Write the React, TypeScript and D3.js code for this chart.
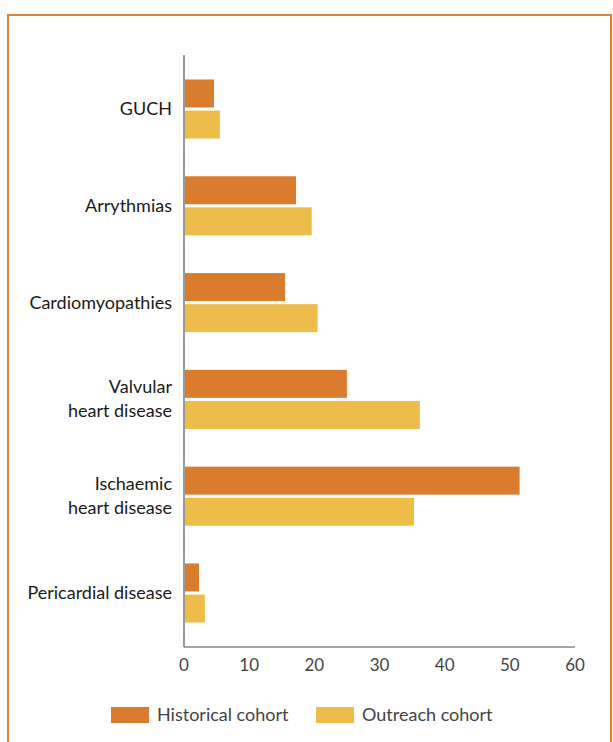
import React, { useEffect, useRef } from 'react';
import * as d3 from 'd3';

const categories = ['GUCH', 'Arrythmias', 'Cardiomyopathies', 'Valvular heart disease', 'Ischaemic heart disease', 'Pericardial disease'];
const categoryLines = [['GUCH'], ['Arrythmias'], ['Cardiomyopathies'], ['Valvular', 'heart disease'], ['Ischaemic', 'heart disease'], ['Pericardial disease']];
const seriesNames = ['Historical cohort', 'Outreach cohort'];
const historical = [4.6, 17.2, 15.5, 25.0, 51.5, 2.3];
const outreach = [5.5, 19.6, 20.5, 36.2, 35.3, 3.2];
const xTicks = [0, 10, 20, 30, 40, 50, 60];
const colors = ['#D97C2E', '#EDBC4A'];

const App = () => {
  const svgRef = useRef(null);

  useEffect(() => {
    const svg = d3.select(svgRef.current);
    svg.selectAll('*').remove();
    const font = 'Lato, "Open Sans", sans-serif';

    // frame
    svg.append('rect')
      .attr('x', 8).attr('y', 15).attr('width', 603).attr('height', 760)
      .attr('fill', 'none').attr('stroke', '#D9823A').attr('stroke-width', 2);

    const x = d3.scaleLinear().domain([0, 60]).range([184, 575]);
    const y = d3.scaleBand().domain(categories).range([55, 647]).paddingInner(0.39).paddingOuter(0.253);
    const sub = d3.scaleBand().domain(seriesNames).range([0, y.bandwidth()]).paddingInner(0.1);

    const data = categories.map((c, i) => ({ c, vals: [historical[i], outreach[i]] }));

    const g = svg.append('g');
    data.forEach(d => {
      d.vals.forEach((v, j) => {
        g.append('rect')
          .attr('x', x(0) + 1)
          .attr('y', y(d.c) + sub(seriesNames[j]))
          .attr('width', x(v) - x(0) - 1)
          .attr('height', sub.bandwidth())
          .attr('fill', colors[j]);
      });
    });

    // axes
    svg.append('line').attr('x1', x(0)).attr('x2', x(0)).attr('y1', 55).attr('y2', 647)
      .attr('stroke', '#777').attr('stroke-width', 1.5);
    svg.append('line').attr('x1', x(0)).attr('x2', x(60)).attr('y1', 647).attr('y2', 647)
      .attr('stroke', '#888').attr('stroke-width', 1.5);

    svg.selectAll('.xtick').data(xTicks).enter().append('text')
      .attr('x', d => x(d)).attr('y', 671)
      .attr('text-anchor', 'middle')
      .attr('font-family', font).attr('font-size', 17).attr('fill', '#444')
      .text(d => d);

    // category labels
    categories.forEach((c, i) => {
      const lines = categoryLines[i];
      const cy = y(c) + y.bandwidth() / 2;
      const lh = 24;
      const start = cy - (lines.length - 1) * lh / 2 + 6;
      lines.forEach((l, k) => {
        svg.append('text')
          .attr('x', 172).attr('y', start + k * lh)
          .attr('text-anchor', 'end')
          .attr('font-family', font).attr('font-size', 18).attr('fill', '#1a1a1a')
          .text(l);
      });
    });

    // legend
    const legendX = [111, 316];
    seriesNames.forEach((s, i) => {
      svg.append('rect').attr('x', legendX[i]).attr('y', 707).attr('width', 38).attr('height', 16).attr('fill', colors[i]);
      svg.append('text').attr('x', legendX[i] + 46).attr('y', 721)
        .attr('font-family', font).attr('font-size', 18).attr('fill', '#444')
        .text(s);
    });
  }, []);

  return <svg ref={svgRef} width={613} height={742} style={{ position: 'absolute', left: 0, top: 0 }}></svg>;
};

export default App;
